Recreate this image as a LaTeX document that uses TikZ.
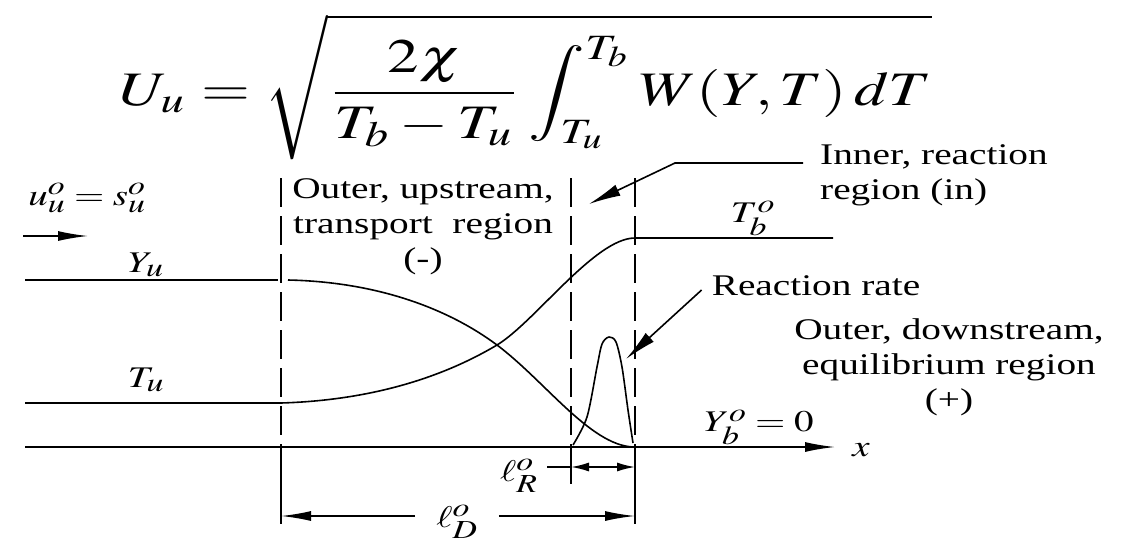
\documentclass[tikz,border=0pt]{standalone}
\usepackage{mathptmx}
\usepackage[no-math]{fontspec}
\setmainfont{Liberation Serif}[FakeStretch=1.31]
\usepackage{graphicx}
\usetikzlibrary{arrows.meta,positioning}
\DeclareMathSizes{30}{30}{26}{21}
\newcommand\wm[1]{\scalebox{1.3}[1]{$#1$}}

\begin{document}
\begin{tikzpicture}[x=1pt,y=-1pt,
  txt/.style={font=\fontsize{30}{35}\selectfont,inner sep=0pt,align=center},
  sym/.style={font=\fontsize{30}{34}\selectfont,inner sep=0pt},
  crv/.style={line width=1.6pt,line join=round},
  dsh/.style={line width=1.8pt,dash pattern=on 29pt off 9pt},
  sol/.style={line width=1.8pt},
  ptr/.style={-{Latex[length=32pt,width=12pt]},line width=1.6pt},
  dimarr/.style={-{Latex[length=30pt,width=10pt]},line width=1.6pt},
  smarr/.style={{Latex[length=18pt,width=9pt]}-{Latex[length=18pt,width=9pt]},line width=1.6pt}]
\useasboundingbox (0,0) rectangle (1133,539);
% equation
\node[inner sep=0pt] (eq) at (526,87) {\resizebox*{812pt}{146pt}{$\displaystyle U_u=\sqrt{\frac{2\chi}{T_b-T_u}\int_{T_u}^{T_b}W(Y,T)\,dT}$}};
% labels
\node[txt] (up) at (423,227) {Outer, upstream,\\transport\ \ region\\(-)};
\node[txt,align=left,anchor=west] (inner) at (820,175) {Inner, reaction\\region (in)};
\node[txt] (down) at (949,367) {Outer, downstream,\\equilibrium region\\(+)};
\node[txt] (rate) at (816,286) {Reaction rate};
\node[sym] (us) at (87,198) {\wm{u_u^o=s_u^o}};
\node[sym] (Yu) at (146,265) {\wm{Y_u}};
\node[sym] (Tu) at (146,380) {\wm{T_u}};
\node[sym] (Tb) at (753,218) {\wm{T_b^o}};
\node[sym] (Yb) at (759,427) {\wm{Y_b^o=0}};
\node[sym] (xl) at (861,450) {\wm{x}};
\node[sym] (lR) at (519,476) {\wm{\ell_R^o}};
\node[sym,inner xsep=21pt] (lD) at (457,522) {\wm{\ell_D^o}};
% axis and flow
\coordinate (o) at (25,447);
\coordinate (xe) at (835,447);
\draw[dimarr] (o) -- (xe);
\coordinate (f0) at (23,236);
\coordinate (f1) at (88,236);
\draw[dimarr] (f0) -- (f1);
% region boundaries
\coordinate (aT) at (281,178); \coordinate (aX) at (281,447); \coordinate (aB) at (281,524);
\coordinate (bT) at (571,178); \coordinate (bX) at (571,447); \coordinate (bB) at (571,484);
\coordinate (cT) at (635,178); \coordinate (cX) at (635,447); \coordinate (cB) at (635,524);
\draw[dsh] (aT) -- (aX); \draw[sol] (aX) -- (aB);
\draw[dsh] (bT) -- (bX); \draw[sol] (bX) -- (bB);
\draw[dsh] (cT) -- (cX); \draw[sol] (cX) -- (cB);
% profiles
\draw[crv] (25,280) -- (278,280);
\draw[crv] (288,280) .. controls (380,282) and (450,310) .. (497,345)
  .. controls (545,381) and (590,445) .. (633,447);
\draw[crv] (25,403) -- (281,403);
\draw[crv] (281,403) .. controls (380,400) and (450,373) .. (497,345)
  .. controls (535,322) and (595,238) .. (635,238) -- (833,238);
\draw[crv] plot[smooth,tension=0.5] coordinates {(573,445) (587,417) (597,367) (602,344) (609,337) (616,342) (622,367) (628,410) (633,443)};
% pointers
\coordinate (inK) at (675,163);
\coordinate (inTip) at (589,204);
\draw[ptr] (inner.west |- inK) ++(-17,0) -- (inK) -- (inTip);
\coordinate (rTip) at (626,359);
\draw[ptr] (rate.west) ++(-10,4) -- (rTip);
% dimensions
\coordinate (rL) at (547,467);
\draw[sol] (rL) -- (bB |- rL);
\draw[smarr] (bB |- rL) -- (cB |- rL);
\coordinate (dL) at (281,516);
\coordinate (dR) at (635,516);
\draw[dimarr] (lD.west |- dL) -- (dL);
\draw[dimarr] (lD.east |- dR) -- (dR);
\end{tikzpicture}
\end{document}
